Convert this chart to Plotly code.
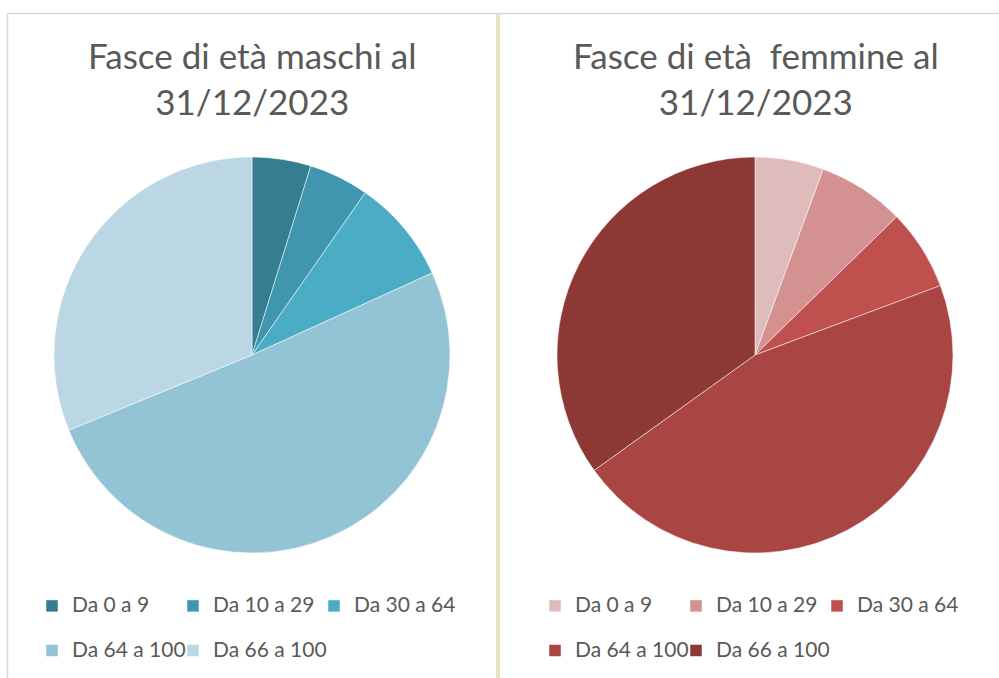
import plotly.graph_objects as go

# ---------------- data ----------------
age_bands = ["Da 0 a 9", "Da 10 a 29", "Da 30 a 64", "Da 64 a 100", "Da 66 a 100"]
male_share = [4.8, 4.9, 8.5, 50.6, 31.2]
female_share = [5.6, 7.1, 6.6, 45.8, 34.9]
male_title = "Fasce di età maschi al<br>31/12/2023"
female_title = "Fasce di età  femmine al<br>31/12/2023"
male_colors = ["#357D91", "#4096AE", "#4BACC6", "#93C4D6", "#BAD7E3"]
female_colors = ["#E0BBBB", "#D39291", "#C0504D", "#A94644", "#8E3836"]

# ---------------- layout helpers ----------------
W, H = 999, 678
ML, MR, MT, MB = 54, 46, 0, 0
GW, GH = W - ML - MR, H - MT - MB


def px(x):
    return (x - ML) / GW


def py(y):
    return 1 - (y - MT) / GH


FONT = "Lato"
TXT = "#595959"
LEG_SIZE = 21

# legend entries: text at LEG_SIZE px plus an empty second line to widen the row pitch
legend_labels = [f'<span style="font-size:{LEG_SIZE}px">{b}</span><br>' for b in age_bands]

fig = go.Figure()
fig.add_trace(go.Pie(
    labels=legend_labels, values=male_share, sort=False, direction="clockwise",
    marker=dict(colors=male_colors, line=dict(color="white", width=0.5)),
    textinfo="none", domain=dict(x=[px(54), px(450)], y=[py(553), py(157)]),
    legend="legend", legendgroup="maschi", name="Maschi",
))
fig.add_trace(go.Pie(
    labels=legend_labels, values=female_share, sort=False, direction="clockwise",
    marker=dict(colors=female_colors, line=dict(color="white", width=0.5)),
    textinfo="none", domain=dict(x=[px(557), px(953)], y=[py(553), py(157)]),
    legend="legend2", legendgroup="femmine", name="Femmine",
))

legend_common = dict(
    orientation="h", entrywidth=96, entrywidthmode="pixels", valign="top",
    font=dict(family=FONT, size=16, color=TXT),
    bgcolor="rgba(0,0,0,0)", traceorder="normal", yanchor="top", y=py(589),
)
title_font = dict(family=FONT, size=35, color=TXT)
fig.update_layout(
    width=W, height=H,
    margin=dict(l=ML, r=MR, t=MT, b=MB, autoexpand=False),
    paper_bgcolor="white", plot_bgcolor="white",
    legend=dict(**legend_common, x=px(32), xanchor="left"),
    legend2=dict(**legend_common, x=px(958), xanchor="right"),
    annotations=[
        dict(text=male_title, x=px(252), y=py(32), xref="paper", yref="paper",
             xanchor="center", yanchor="top", showarrow=False, font=title_font),
        dict(text=female_title, x=px(756), y=py(32), xref="paper", yref="paper",
             xanchor="center", yanchor="top", showarrow=False, font=title_font),
    ],
    shapes=[
        dict(type="line", xref="paper", yref="paper", x0=px(7), x1=px(999), y0=py(13.5), y1=py(13.5),
             line=dict(color="#D9D9D9", width=1.5)),
        dict(type="line", xref="paper", yref="paper", x0=px(7.5), x1=px(7.5), y0=py(13), y1=py(678),
             line=dict(color="#D9D9D9", width=1.5)),
        dict(type="rect", xref="paper", yref="paper", x0=px(496), x1=px(500), y0=py(14), y1=py(678),
             fillcolor="#E8E3C0", line=dict(width=0)),
    ],
)

fig.write_html("out.html", config={"displayModeBar": False},
               post_script="document.body.style.margin='0';")
